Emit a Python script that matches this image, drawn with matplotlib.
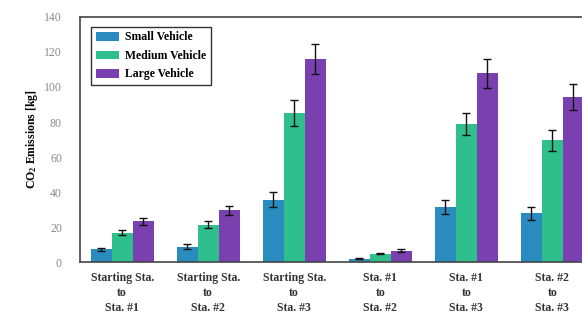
import numpy as np
import matplotlib
matplotlib.use('Agg')
import matplotlib.pyplot as plt

plt.rcParams['font.family'] = ['Liberation Serif', 'DejaVu Serif']
plt.rcParams['mathtext.fontset'] = 'custom'
plt.rcParams['mathtext.rm'] = 'Liberation Serif'
plt.rcParams['mathtext.bf'] = 'Liberation Serif:bold'

routes = ['Starting Sta.\nto\nSta. #1', 'Starting Sta.\nto\nSta. #2',
          'Starting Sta.\nto\nSta. #3', 'Sta. #1\nto\nSta. #2',
          'Sta. #1\nto\nSta. #3', 'Sta. #2\nto\nSta. #3']
vehicles = ['Small Vehicle', 'Medium Vehicle', 'Large Vehicle']
colors = ['#2a8bbf', '#2fbf8c', '#7a40b0']

small = [7.2, 8.8, 35.6, 1.8, 31.2, 27.8]
medium = [16.8, 21.4, 85.2, 4.9, 78.9, 69.5]
large = [23.4, 29.6, 115.8, 6.5, 107.8, 94.5]
small_err = [1.0, 1.5, 4.2, 0.3, 4.0, 3.5]
medium_err = [1.4, 2.0, 7.2, 0.5, 6.4, 6.0]
large_err = [2.0, 2.5, 8.6, 0.7, 8.4, 7.4]

fig = plt.figure(figsize=(5.82, 3.2), dpi=100)
ax = fig.add_axes([0.1375, 0.181, 0.887, 0.766])

x = np.arange(len(routes))
w = 0.245
for i, (vals, errs) in enumerate([(small, small_err), (medium, medium_err), (large, large_err)]):
    ax.bar(x + (i - 1) * w, vals, w, color=colors[i], label=vehicles[i],
           yerr=errs, capsize=3, error_kw=dict(ecolor='#111111', elinewidth=1, capthick=1))

ax.set_xlim(-0.49, 5.51)
ax.set_ylim(0, 140)
ax.set_yticks(np.arange(0, 141, 20))
ax.set_xticks(x)
ax.set_xticklabels(routes, fontsize=8.5, fontweight='bold', color='#333333', linespacing=1.35)
ax.tick_params(axis='both', length=0)
ax.tick_params(axis='y', labelsize=8.5, labelcolor='#8a8a8a', pad=13)
ax.tick_params(axis='x', pad=7)
ax.set_ylabel(r'$\mathbf{CO_2}$ Emissions [kg]', fontsize=8.5, fontweight='bold', labelpad=3)

for s in ['left', 'bottom', 'top']:
    ax.spines[s].set_color('#444444')
    ax.spines[s].set_linewidth(1.2)
ax.spines['right'].set_visible(False)

leg = ax.legend(loc='upper left', bbox_to_anchor=(0.021, 0.96), borderaxespad=0,
                fancybox=False, framealpha=1, edgecolor='#333333',
                prop={'weight': 'bold', 'size': 8.5},
                handlelength=2.0, handleheight=0.75, borderpad=0.4, labelspacing=0.55,
                handletextpad=0.5)
leg.get_frame().set_linewidth(1.0)

fig.savefig('out.png', dpi=100)
